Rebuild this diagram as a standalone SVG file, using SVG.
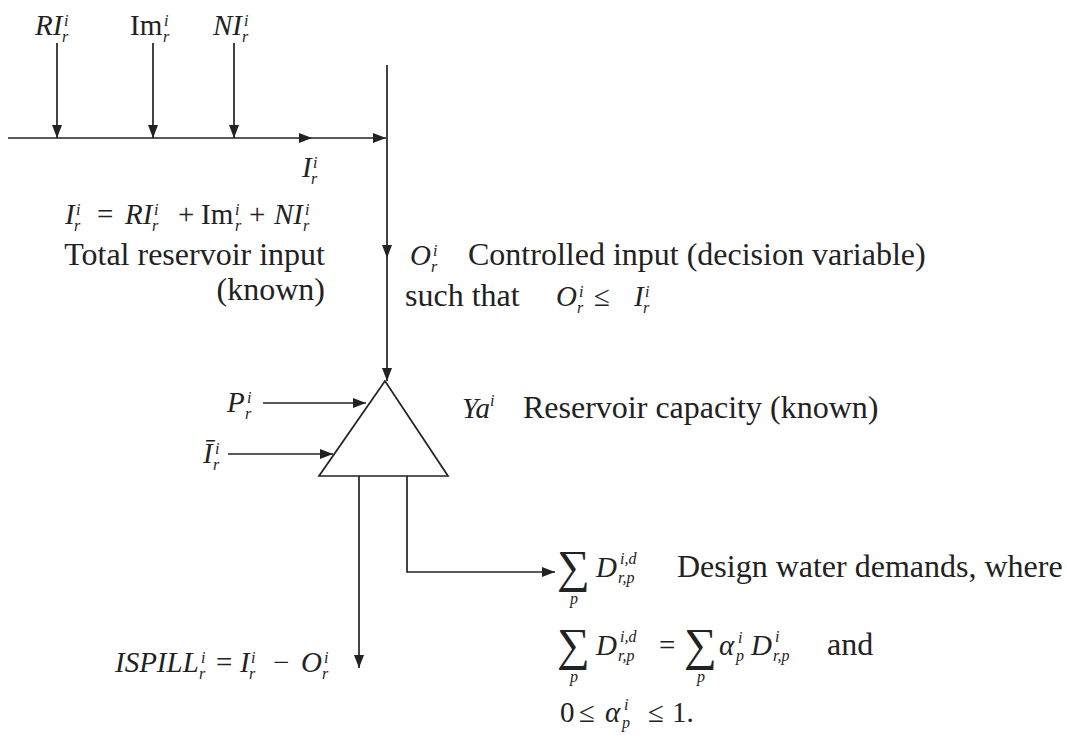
<svg xmlns="http://www.w3.org/2000/svg" width="1067" height="742" viewBox="0 0 1067 742">
<style>
.t{font-family:"Liberation Serif","Times New Roman",serif;font-size:32px;fill:#222}
.m{font-family:"Liberation Serif","Times New Roman",serif;font-size:29px;font-style:italic;fill:#222}
.u{font-style:normal}
.s{font-size:16px;font-style:italic}
.sg{font-size:46px;font-style:normal}
.ln{stroke:#222;stroke-width:1.7;fill:none}
</style>
<defs>
<marker id="ah" markerUnits="userSpaceOnUse" markerWidth="14" markerHeight="10" refX="13" refY="5" orient="auto">
<path d="M0,0 L13,5 L0,10 z" fill="#222"/>
</marker>
</defs>
<rect width="1067" height="742" fill="#fff"/>

<g id="connectors" class="ln">
<line x1="57" y1="43" x2="57" y2="138" marker-end="url(#ah)"/>
<line x1="153" y1="43" x2="153" y2="138" marker-end="url(#ah)"/>
<line x1="234" y1="43" x2="234" y2="138" marker-end="url(#ah)"/>
<line x1="8" y1="138" x2="312" y2="138" marker-end="url(#ah)"/>
<line x1="312" y1="138" x2="386" y2="138" marker-end="url(#ah)"/>
<line x1="387" y1="65" x2="387" y2="258" marker-end="url(#ah)"/>
<line x1="387" y1="258" x2="387" y2="381" marker-end="url(#ah)"/>
<line x1="263" y1="403" x2="366" y2="403" marker-end="url(#ah)"/>
<line x1="228" y1="454" x2="333" y2="454" marker-end="url(#ah)"/>
<line x1="359" y1="476" x2="359" y2="668" marker-end="url(#ah)"/>
<polyline points="407,476 407,572 555,572" marker-end="url(#ah)"/>
</g>

<g id="reservoir">
<polygon points="385,381 319,476 448,476" fill="#fff" stroke="#222" stroke-width="1.7"/>
</g>

<g id="input-RI">
<text class="m" x="35" y="35">RI<tspan class="s" x="64" y="26">i</tspan><tspan class="s" x="62" y="42">r</tspan></text>
</g>
<g id="input-Im">
<text class="m" x="130" y="35"><tspan class="u">Im</tspan><tspan class="s" x="164" y="26">i</tspan><tspan class="s" x="163" y="42">r</tspan></text>
</g>
<g id="input-NI">
<text class="m" x="213" y="35">NI<tspan class="s" x="244" y="26">i</tspan><tspan class="s" x="242" y="42">r</tspan></text>
</g>
<g id="total-input-label">
<text class="m" x="302" y="177">I<tspan class="s" x="313" y="168">i</tspan><tspan class="s" x="311" y="184">r</tspan></text>
</g>
<g id="total-input-eq">
<text class="m" x="65" y="224">I<tspan class="s" x="76" y="215">i</tspan><tspan class="s" x="74" y="231">r</tspan><tspan class="u" x="97" y="224">=</tspan><tspan x="125" y="224">RI</tspan><tspan class="s" x="154" y="215">i</tspan><tspan class="s" x="152" y="231">r</tspan><tspan class="u" x="178" y="224">+</tspan><tspan class="u" x="201" y="224">Im</tspan><tspan class="s" x="235" y="215">i</tspan><tspan class="s" x="235" y="231">r</tspan><tspan class="u" x="249" y="224">+</tspan><tspan x="274" y="224">NI</tspan><tspan class="s" x="305" y="215">i</tspan><tspan class="s" x="303" y="231">r</tspan></text>
<text class="t" x="325" y="265" text-anchor="end">Total reservoir input</text>
<text class="t" x="325" y="300" text-anchor="end">(known)</text>
</g>
<g id="controlled-input">
<text class="m" x="410" y="265">O<tspan class="s" x="433" y="256">i</tspan><tspan class="s" x="431" y="272">r</tspan></text>
<text class="t" x="468" y="265">Controlled input (decision variable)</text>
<text class="t" x="405" y="306">such that</text>
<text class="m" x="556" y="306">O<tspan class="s" x="579" y="297">i</tspan><tspan class="s" x="577" y="313">r</tspan><tspan class="u" x="594" y="306">≤</tspan><tspan x="634" y="306">I</tspan><tspan class="s" x="645" y="297">i</tspan><tspan class="s" x="643" y="313">r</tspan></text>
</g>
<g id="capacity">
<text class="m" x="462" y="418">Ya<tspan class="s" x="490" y="406">i</tspan></text>
<text class="t" x="523" y="418">Reservoir capacity (known)</text>
</g>
<g id="input-P">
<text class="m" x="227" y="412">P<tspan class="s" x="247" y="403">i</tspan><tspan class="s" x="245" y="419">r</tspan></text>
</g>
<g id="input-Ibar">
<text class="m" x="203" y="463">Ī<tspan class="s" x="215" y="454">i</tspan><tspan class="s" x="213" y="470">r</tspan></text>
</g>
<g id="spill">
<text class="m" x="115" y="672">ISPILL<tspan class="s" x="201" y="663">i</tspan><tspan class="s" x="199" y="679">r</tspan><tspan class="u" x="216" y="672">=</tspan><tspan x="240" y="672">I</tspan><tspan class="s" x="251" y="663">i</tspan><tspan class="s" x="249" y="679">r</tspan><tspan class="u" x="273" y="672">−</tspan><tspan x="301" y="672">O</tspan><tspan class="s" x="324" y="663">i</tspan><tspan class="s" x="322" y="679">r</tspan></text>
</g>
<g id="demands">
<text class="m" x="557" y="582"><tspan class="sg">∑</tspan><tspan class="s" x="570" y="604">p</tspan><tspan x="596" y="577">D</tspan><tspan class="s" x="620" y="564">i,d</tspan><tspan class="s" x="618" y="583">r,p</tspan></text>
<text class="t" x="677" y="577">Design water demands, where</text>

<text class="m" x="557" y="660"><tspan class="sg">∑</tspan><tspan class="s" x="570" y="682">p</tspan><tspan x="596" y="655">D</tspan><tspan class="s" x="620" y="642">i,d</tspan><tspan class="s" x="618" y="661">r,p</tspan><tspan class="u" x="659" y="655">=</tspan><tspan class="sg" x="684" y="660">∑</tspan><tspan class="s" x="697" y="682">p</tspan><tspan x="719" y="655">α</tspan><tspan class="s" x="738" y="643">i</tspan><tspan class="s" x="736" y="661">p</tspan><tspan x="751" y="655">D</tspan><tspan class="s" x="775" y="642">i</tspan><tspan class="s" x="773" y="661">r,p</tspan></text>
<text class="t" x="827" y="655">and</text>

<text class="m" x="560" y="722"><tspan class="u">0</tspan><tspan class="u" x="579" y="722">≤</tspan><tspan x="605" y="722">α</tspan><tspan class="s" x="624" y="710">i</tspan><tspan class="s" x="622" y="728">p</tspan><tspan class="u" x="648" y="722">≤</tspan><tspan class="u" x="672" y="722">1.</tspan></text>
</g>
</svg>
